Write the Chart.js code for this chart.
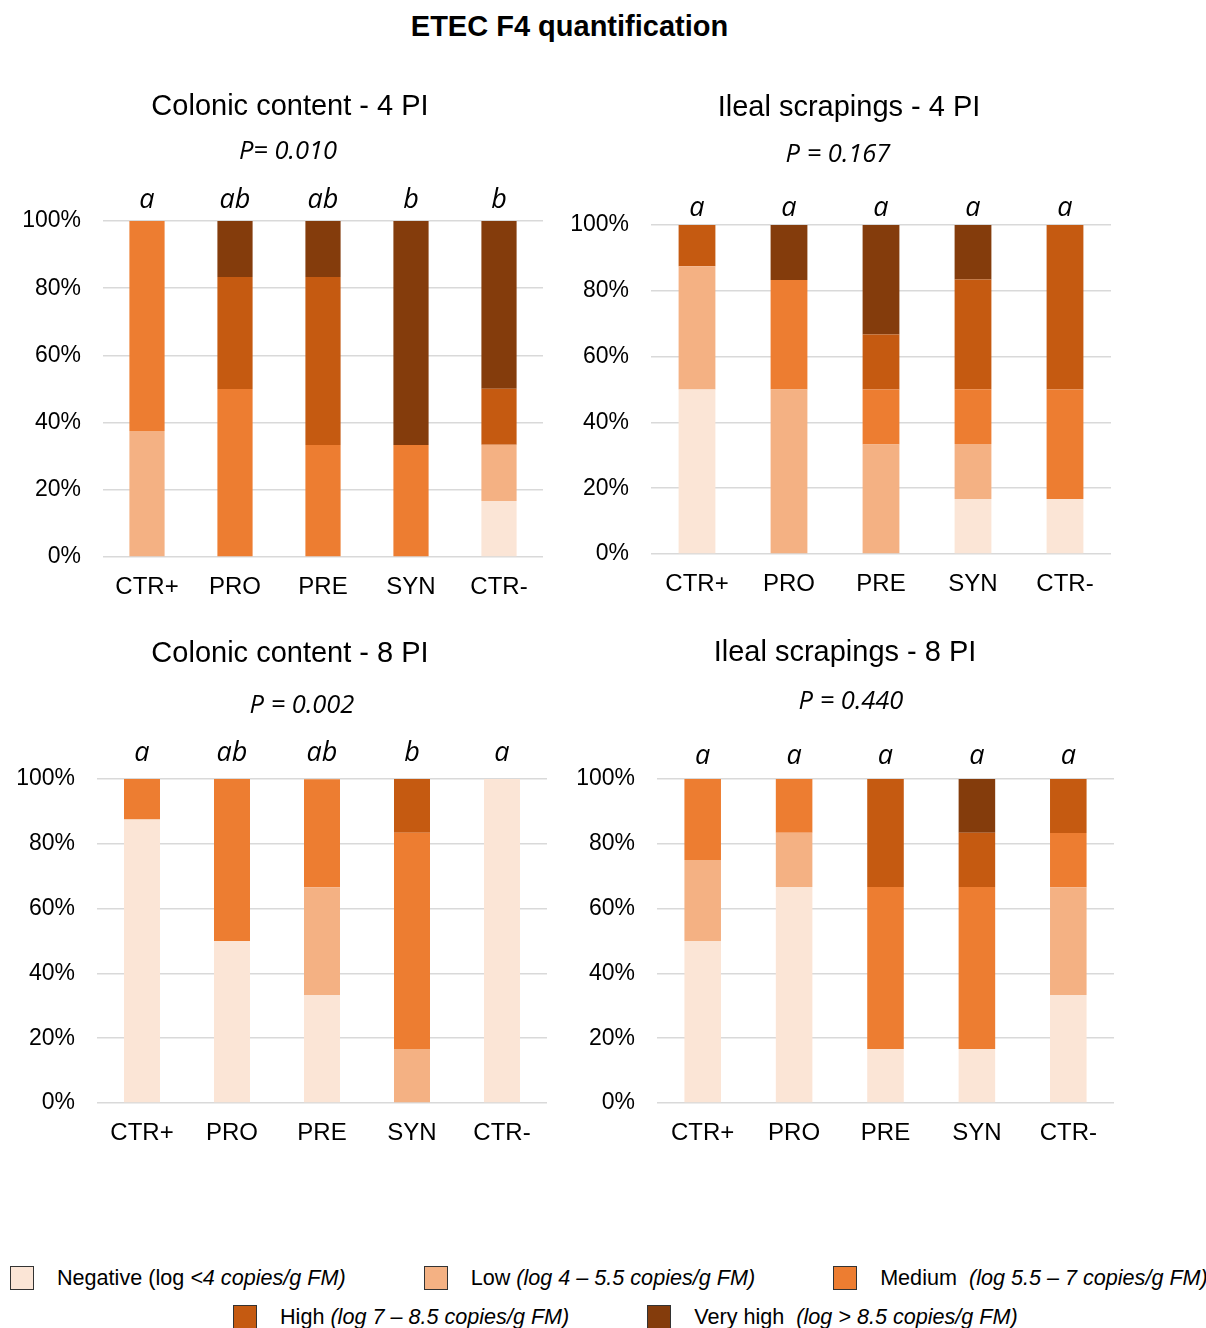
<!DOCTYPE html>
<html>
<head>
<meta charset="utf-8">
<title>ETEC F4 quantification</title>
<script src="https://cdn.jsdelivr.net/npm/chart.js@4.4.1/dist/chart.umd.min.js"></script>
<style>
  body { margin: 0; background: #fff; width: 1206px; height: 1328px; position: relative; overflow: hidden;
         font-family: Arial, "Liberation Sans", sans-serif; color: #000; }
  h1 { position: absolute; left: 0; top: 8px; width: 1139px; margin: 0; text-align: center;
       font-size: 29px; line-height: 36px; font-weight: bold; }
  canvas { position: absolute; }
  .legend-row { position: absolute; display: flex; gap: 78px; align-items: center; font-size: 21.6px; white-space: pre; }
  .legend-item { display: flex; align-items: center; }
  .legend-box { width: 22px; height: 22px; border: 1.5px solid #333; margin-right: 23px; }
  .legend-item i { font-style: italic; }
</style>
</head>
<body>
<h1>ETEC F4 quantification</h1>
<canvas id="colonic4"></canvas>
<canvas id="ileal4"></canvas>
<canvas id="colonic8"></canvas>
<canvas id="ileal8"></canvas>
<div class="legend-row" id="legendRow1" style="left:10px; top:1265px;"></div>
<div class="legend-row" id="legendRow2" style="left:233px; top:1304px;"></div>

<script>
const groups = ['CTR+', 'PRO', 'PRE', 'SYN', 'CTR-'];
const levelNames = ['Negative', 'Low', 'Medium', 'High', 'Very high'];
const levelColors = ['#FBE5D6', '#F4B183', '#ED7D31', '#C55A11', '#843C0C'];
const yTicks = [0, 20, 40, 60, 80, 100];

// % of animals per level (rows: Negative, Low, Medium, High, Very high)
const colonic4PI = [
  [0, 0, 0, 0, 16.7],
  [37.5, 0, 0, 0, 16.7],
  [62.5, 50, 33.3, 33.3, 0],
  [0, 33.3, 50, 0, 16.7],
  [0, 16.7, 16.7, 66.7, 50]
];
const ileal4PI = [
  [50, 0, 0, 16.7, 16.7],
  [37.5, 50, 33.3, 16.7, 0],
  [0, 33.3, 16.7, 16.7, 33.3],
  [12.5, 0, 16.7, 33.3, 50],
  [0, 16.7, 33.3, 16.7, 0]
];
const colonic8PI = [
  [87.5, 50, 33.3, 0, 100],
  [0, 0, 33.3, 16.7, 0],
  [12.5, 50, 33.3, 66.7, 0],
  [0, 0, 0, 16.7, 0],
  [0, 0, 0, 0, 0]
];
const ileal8PI = [
  [50, 66.7, 16.7, 16.7, 33.3],
  [25, 16.7, 0, 0, 33.3],
  [25, 16.7, 50, 50, 16.7],
  [0, 0, 33.3, 16.7, 16.7],
  [0, 0, 0, 16.7, 0]
];

const colonic4Letters = ['a', 'ab', 'ab', 'b', 'b'];
const ileal4Letters = ['a', 'a', 'a', 'a', 'a'];
const colonic8Letters = ['a', 'ab', 'ab', 'b', 'a'];
const ileal8Letters = ['a', 'a', 'a', 'a', 'a'];

const legendPlain = ['Negative (log ', 'Low ', 'Medium  ', 'High ', 'Very high  '];
const legendItalic = ['<4 copies/g FM)', '(log 4 – 5.5 copies/g FM)', '(log 5.5 – 7 copies/g FM)',
                      '(log 7 – 8.5 copies/g FM)', '(log > 8.5 copies/g FM)'];

const FONT = 'Arial, "Liberation Sans", sans-serif';
const ITALIC_FONT = '"Open Sans", Arial, sans-serif';
const TITLE_SIZE = 29, P_SIZE = 25.5;

// significance letters above each bar
const letterPlugin = {
  id: 'groupLetters',
  afterDatasetsDraw(chart, args, opts) {
    const ctx = chart.ctx;
    const x = chart.scales.x;
    ctx.save();
    ctx.font = 'italic 27px ' + ITALIC_FONT;
    ctx.fillStyle = '#000';
    ctx.textAlign = 'center';
    ctx.textBaseline = 'middle';
    opts.letters.forEach((l, i) => ctx.fillText(l, x.getPixelForValue(i), opts.y));
    ctx.restore();
  }
};

// re-centre the title and subtitle boxes on their own x positions
const titleShift = {
  id: 'titleShift',
  afterLayout(chart, args, opts) {
    chart.boxes.forEach(b => {
      if (!b.options || typeof b.options.text !== 'string') return;
      const cx = b === chart.titleBlock ? opts.titleX : opts.pX;
      const half = (b.right - b.left) / 2;
      b.left = cx - half;
      b.right = cx + half;
    });
  }
};

function makePanel(p) {
  const canvas = document.getElementById(p.id);
  canvas.width = p.box.width;
  canvas.height = p.box.height;
  canvas.style.left = p.box.left + 'px';
  canvas.style.top = p.box.top + 'px';

  const titleH = TITLE_SIZE * 1.2, subH = P_SIZE * 1.2;
  const titleMid = p.titleY - p.box.top;
  const subMid = p.pY - p.box.top;
  const plotTop = p.plot.top - p.box.top;

  new Chart(canvas, {
    type: 'bar',
    data: {
      labels: groups,
      datasets: p.data.map((vals, k) => ({
        label: levelNames[k],
        data: vals,
        backgroundColor: levelColors[k],
        borderWidth: 0
      }))
    },
    options: {
      responsive: false,
      animation: false,
      devicePixelRatio: 1,
      categoryPercentage: 1,
      barPercentage: 0.4,
      layout: { padding: { left: 0, top: 0, bottom: 0, right: p.box.left + p.box.width - p.plot.right } },
      scales: {
        x: {
          stacked: true,
          grid: { display: false },
          border: { display: false },
          ticks: { color: '#000', font: { family: FONT, size: 24 }, padding: 8 },
          afterFit: s => { s.height = p.box.top + p.box.height - p.plot.bottom; }
        },
        y: {
          stacked: true,
          min: 0,
          max: 100,
          afterBuildTicks: s => { s.ticks = yTicks.map(v => ({ value: v })); },
          grid: { color: '#d9d9d9', lineWidth: 1.5, drawTicks: false },
          border: { display: false },
          ticks: { color: '#000', font: { family: FONT, size: 23 }, padding: 22, callback: v => v + '%' },
          afterFit: s => { s.width = p.plot.left - p.box.left; }
        }
      },
      plugins: {
        legend: { display: false },
        tooltip: { enabled: false },
        title: {
          display: true,
          text: p.title,
          color: '#000',
          font: { family: FONT, size: TITLE_SIZE, weight: 'normal' },
          padding: { top: titleMid - titleH / 2, bottom: 0 }
        },
        subtitle: {
          display: true,
          text: p.pText,
          color: '#000',
          font: { family: ITALIC_FONT, size: P_SIZE, style: 'italic' },
          padding: { top: subMid - subH / 2 - (titleMid + titleH / 2), bottom: plotTop - (subMid + subH / 2) }
        },
        titleShift: { titleX: p.titleX - p.box.left, pX: p.pX - p.box.left },
        groupLetters: { letters: p.letters, y: p.letterY - p.box.top }
      }
    },
    plugins: [titleShift, letterPlugin]
  });
}

makePanel({ id: 'colonic4', title: 'Colonic content - 4 PI', pText: 'P= 0.010', data: colonic4PI, letters: colonic4Letters,
  box: { left: 0, top: 80, width: 560, height: 530 }, plot: { left: 103, right: 543, top: 221, bottom: 557 },
  titleX: 290, titleY: 107, pX: 288, pY: 152, letterY: 200 });
makePanel({ id: 'ileal4', title: 'Ileal scrapings - 4 PI', pText: 'P = 0.167', data: ileal4PI, letters: ileal4Letters,
  box: { left: 560, top: 80, width: 566, height: 530 }, plot: { left: 651, right: 1111, top: 225, bottom: 554 },
  titleX: 849, titleY: 108, pX: 838, pY: 155, letterY: 208 });
makePanel({ id: 'colonic8', title: 'Colonic content - 8 PI', pText: 'P = 0.002', data: colonic8PI, letters: colonic8Letters,
  box: { left: 0, top: 625, width: 560, height: 530 }, plot: { left: 97, right: 547, top: 779, bottom: 1103 },
  titleX: 290, titleY: 654, pX: 302, pY: 706, letterY: 753 });
makePanel({ id: 'ileal8', title: 'Ileal scrapings - 8 PI', pText: 'P = 0.440', data: ileal8PI, letters: ileal8Letters,
  box: { left: 560, top: 625, width: 566, height: 530 }, plot: { left: 657, right: 1114, top: 779, bottom: 1103 },
  titleX: 845, titleY: 653, pX: 851, pY: 702, letterY: 756 });

// shared legend below the panels
const rows = [document.getElementById('legendRow1'), document.getElementById('legendRow2')];
levelNames.forEach((name, k) => {
  const item = document.createElement('div');
  item.className = 'legend-item';
  const box = document.createElement('span');
  box.className = 'legend-box';
  box.style.background = levelColors[k];
  const txt = document.createElement('span');
  txt.textContent = legendPlain[k];
  const it = document.createElement('i');
  it.textContent = legendItalic[k];
  txt.appendChild(it);
  item.appendChild(box);
  item.appendChild(txt);
  rows[k < 3 ? 0 : 1].appendChild(item);
});
</script>
</body>
</html>
